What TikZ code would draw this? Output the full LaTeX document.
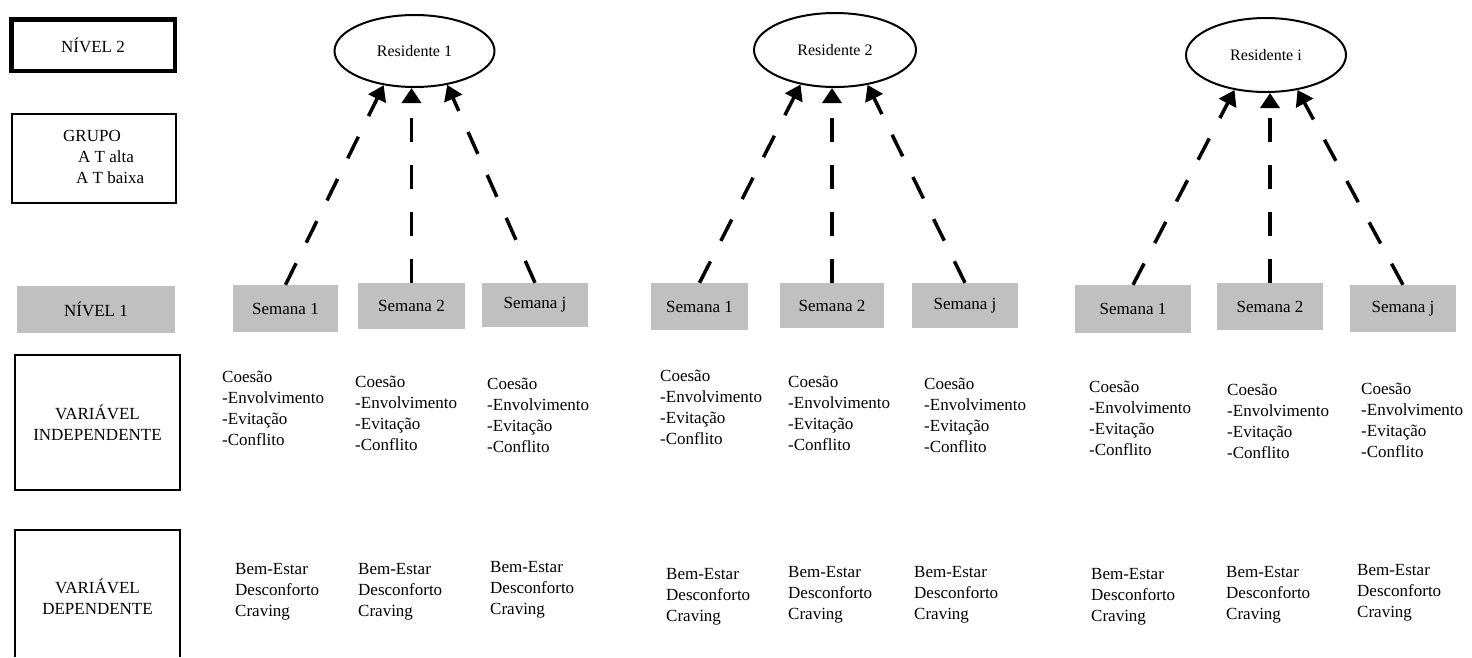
\documentclass[tikz,border=0pt]{standalone}
\usepackage{fontspec}
\setmainfont{Liberation Serif}
\usetikzlibrary{shapes.geometric,arrows.meta}
\definecolor{semgray}{RGB}{192,192,192}
\begin{document}
\begin{tikzpicture}[x=1pt,y=-1pt,
  txt/.style={font=\fontsize{17}{21}\selectfont, inner sep=0pt},
  col/.style={txt, align=left, anchor=north west},
  legbox/.style={draw, line width=1.3pt},
  semana/.style={txt, fill=semgray},
  resid/.style={draw, ellipse, line width=2pt, inner sep=0pt, font=\fontsize{16}{19}\selectfont},
  conn/.style={line width=3.5pt, dash pattern=on 24pt off 23pt, -{Triangle[length=15pt,width=19pt]}}
]
\useasboundingbox (0,0) rectangle (1472,657);
\fill[white] (0,0) rectangle (1472,657);

% legend column
\node[txt, draw, line width=4.5pt, minimum width=163.5pt, minimum height=51.5pt] (niv2) at (93,45) {NÍVEL 2};
\node[legbox, minimum width=164pt, minimum height=89pt] (grupo) at (94,158.5) {};
\node[col] (grupotxt) at (63,130) {GRUPO\\\hspace*{15pt}A T alta\\\hspace*{13pt}A T baixa};
\node[semana, minimum width=158pt, minimum height=47pt] (niv1) at (96,309.5) {NÍVEL 1};
\node[txt, legbox, align=center, minimum width=165pt, minimum height=135pt] (vind) at (97.5,422.5) {VARIÁVEL\\INDEPENDENTE};
\node[txt, align=center] (vdep) at (97.5,596.5) {VARIÁVEL\\DEPENDENTE};
\draw[line width=1.3pt] (15,657) -- (15,530) -- (180,530) -- (180,657);

% residents
\node[resid, minimum width=160pt, minimum height=72pt] (r1) at (414.5,51) {Residente 1};
\node[resid, minimum width=162pt, minimum height=74pt] (r2) at (835,50) {Residente 2};
\node[resid, minimum width=160pt, minimum height=74pt] (r3) at (1266,55) {Residente i};

% weeks
\node[semana, minimum width=105pt, minimum height=47pt] (g1a) at (285.5,308.5) {Semana 1};
\node[semana, minimum width=107pt, minimum height=46pt] (g1b) at (411.5,306) {Semana 2};
\node[semana, minimum width=106pt, minimum height=44pt] (g1c) at (535,305) {Semana j};
\node[semana, minimum width=97pt, minimum height=47pt] (g2a) at (699.5,306.5) {Semana 1};
\node[semana, minimum width=104pt, minimum height=45pt] (g2b) at (832,305.5) {Semana 2};
\node[semana, minimum width=106pt, minimum height=45pt] (g2c) at (965,305.5) {Semana j};
\node[semana, minimum width=116pt, minimum height=48pt] (g3a) at (1133,309) {Semana 1};
\node[semana, minimum width=106pt, minimum height=47pt] (g3b) at (1270,306.5) {Semana 2};
\node[semana, minimum width=106pt, minimum height=47pt] (g3c) at (1403,308.5) {Semana j};

% connectors
\draw[conn] (g1a.north) -- (r1.228);
\draw[conn] (g1b.north) -- (g1b.north |- r1.south);
\draw[conn] (g1c.north) -- (r1.314);
\draw[conn] (g2a.north) -- (r2.225);
\draw[conn] (g2b.north) -- (g2b.north |- r2.south);
\draw[conn] (g2c.north) -- (r2.313);
\draw[conn] (g3a.north) -- (r3.228);
\draw[conn] (g3b.north) -- (g3b.north |- r3.south);
\draw[conn] (g3c.north) -- (r3.312);

% independent variables
\node[col] (i1a) at (222,371) {Coesão\\-Envolvimento\\-Evitação\\-Conflito};
\node[col] (i1b) at (355,376) {Coesão\\-Envolvimento\\-Evitação\\-Conflito};
\node[col] (i1c) at (487,378) {Coesão\\-Envolvimento\\-Evitação\\-Conflito};
\node[col] (i2a) at (660,370) {Coesão\\-Envolvimento\\-Evitação\\-Conflito};
\node[col] (i2b) at (788,376) {Coesão\\-Envolvimento\\-Evitação\\-Conflito};
\node[col] (i2c) at (924,378) {Coesão\\-Envolvimento\\-Evitação\\-Conflito};
\node[col] (i3a) at (1089,381) {Coesão\\-Envolvimento\\-Evitação\\-Conflito};
\node[col] (i3b) at (1227,384) {Coesão\\-Envolvimento\\-Evitação\\-Conflito};
\node[col] (i3c) at (1361,383) {Coesão\\-Envolvimento\\-Evitação\\-Conflito};

% dependent variables
\node[col] (d1a) at (235,563) {Bem-Estar\\Desconforto\\Craving};
\node[col] (d1b) at (358,563) {Bem-Estar\\Desconforto\\Craving};
\node[col] (d1c) at (490,561) {Bem-Estar\\Desconforto\\Craving};
\node[col] (d2a) at (666,568) {Bem-Estar\\Desconforto\\Craving};
\node[col] (d2b) at (788,566) {Bem-Estar\\Desconforto\\Craving};
\node[col] (d2c) at (914,566) {Bem-Estar\\Desconforto\\Craving};
\node[col] (d3a) at (1091,568) {Bem-Estar\\Desconforto\\Craving};
\node[col] (d3b) at (1226,566) {Bem-Estar\\Desconforto\\Craving};
\node[col] (d3c) at (1357,564) {Bem-Estar\\Desconforto\\Craving};
\end{tikzpicture}
\end{document}
